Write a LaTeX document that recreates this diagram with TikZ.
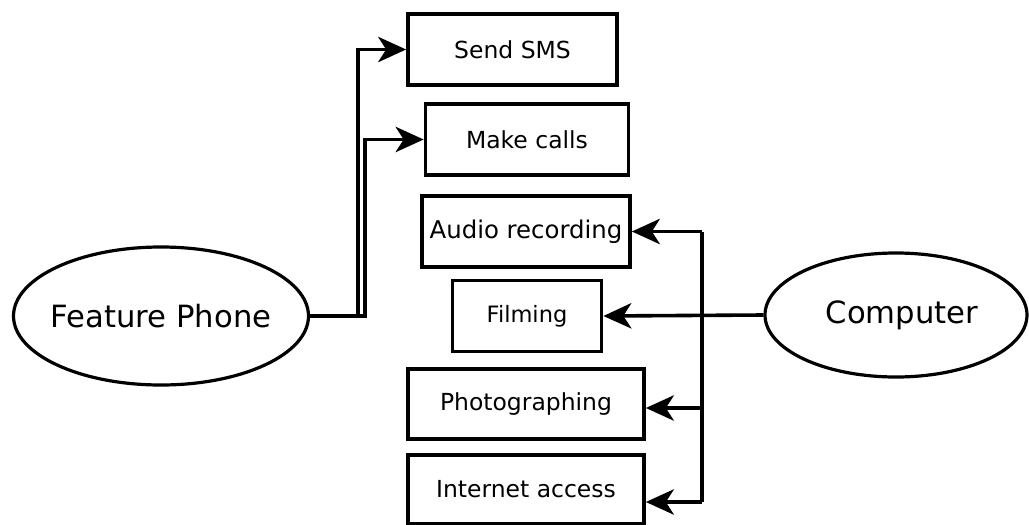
\documentclass[tikz,border=0pt]{standalone}
\usepackage{fontspec}
\setmainfont{DejaVu Sans}
\usetikzlibrary{arrows.meta,shapes.geometric}
\begin{document}
\begin{tikzpicture}[x=0.75pt,y=-0.75pt,
  box/.style={draw,line width=2.8pt,inner sep=0pt,font=\fontsize{17.6}{20}\selectfont},
  oval/.style={draw,ellipse,line width=2.4pt,inner sep=0pt},
  bigtext/.style={inner sep=0pt,font=\fontsize{23}{27}\selectfont},
  conn/.style={line width=2.7pt,-{Stealth[length=21pt,width=19pt,inset=6pt]}},
  plain/.style={line width=2.7pt}]
\useasboundingbox (0,0) rectangle (1029,525);
\node[box,minimum width=209*0.75pt,minimum height=71*0.75pt] (sms) at (512.5,49.5) {Send SMS};
\node[box,minimum width=203*0.75pt,minimum height=71*0.75pt] (calls) at (527,139.5) {Make calls};
\node[box,minimum width=208*0.75pt,minimum height=71*0.75pt,font=\fontsize{18.3}{21}\selectfont] (audio) at (526,231.5) {Audio recording};
\node[box,minimum width=149*0.75pt,minimum height=71*0.75pt,font=\fontsize{16.9}{20}\selectfont] (film) at (527,316) {Filming};
\node[box,minimum width=236*0.75pt,minimum height=70*0.75pt] (photo) at (526,404) {Photographing};
\node[box,minimum width=236*0.75pt,minimum height=69*0.75pt] (inet) at (526,489.5) {Internet access};
\node[oval,minimum width=295*0.75pt,minimum height=138*0.75pt] (fp) at (161,316) {};
\node[bigtext] (fptext) at (161,316) {Feature Phone};
\node[oval,minimum width=262*0.75pt,minimum height=124*0.75pt] (comp) at (896,315) {};
\node[bigtext] (comptext) at (902,315) {Computer};
\coordinate (bus) at (702,316);
\draw[conn] (fp.east) -- (358,316) |- (sms.west);
\draw[conn] (fp.east) -- (365,316) |- (calls.west);
\draw[conn] (comp.west) -- (film.east);
\draw[plain] (bus) -- (702,231.5);
\draw[plain] (bus) -- (702,502);
\draw[conn] (702,231.5) -- (audio.east);
\draw[conn] (702,408) -- (photo.east |- 0,408);
\draw[conn] (702,502) -- (inet.east |- 0,502);
\end{tikzpicture}
\end{document}
